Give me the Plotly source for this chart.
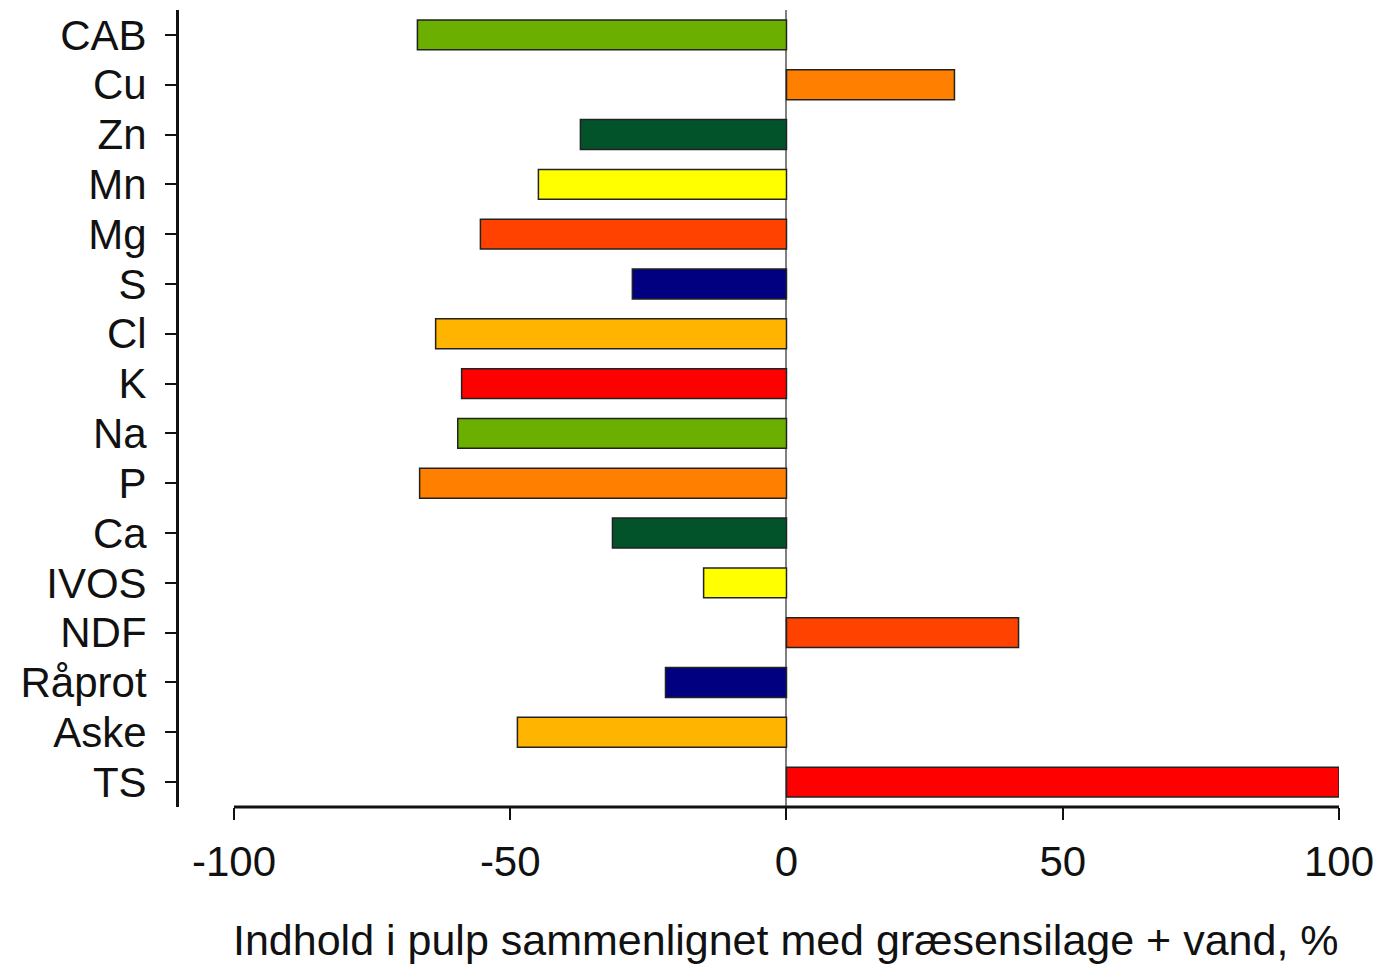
import plotly.graph_objects as go

categories = ["CAB", "Cu", "Zn", "Mn", "Mg", "S", "Cl", "K", "Na", "P", "Ca",
              "IVOS", "NDF", "Råprot", "Aske", "TS"]
values = [-66.8, 30.4, -37.3, -44.9, -55.4, -27.9, -63.5, -58.8, -59.5, -66.4,
          -31.5, -15.0, 42.0, -21.9, -48.7, 100.0]
colors = ["#6BAF00", "#FF7F00", "#02522A", "#FFFF00", "#FF4200", "#000080",
          "#FFB400", "#FF0000", "#6BAF00", "#FF7F00", "#02522A", "#FFFF00",
          "#FF4200", "#000080", "#FFB400", "#FF0000"]
x_ticks = [-100, -50, 0, 50, 100]
x_title = "Indhold i pulp sammenlignet med græsensilage + vand, %"

FONT = "Liberation Sans, Arial, sans-serif"

fig = go.Figure(go.Bar(
    y=categories, x=values, orientation="h", width=0.6,
    marker=dict(color=colors, line=dict(color="#222222", width=1.5)),
))

fig.update_layout(
    width=1381, height=966,
    margin=dict(l=179, r=42, t=10, b=159, autoexpand=False),
    paper_bgcolor="white", plot_bgcolor="white",
    showlegend=False,
    font=dict(family=FONT, size=42, color="#111111"),
    xaxis=dict(
        range=[-109.95, 100], tickmode="array", tickvals=x_ticks,
        ticktext=[str(v) for v in x_ticks], automargin=False,
        showline=False, showgrid=False,
        ticks="outside", ticklen=12, tickwidth=2, tickcolor="#111111",
        zeroline=True, zerolinecolor="#808080", zerolinewidth=2,
        ticklabelstandoff=6,
    ),
    yaxis=dict(
        type="category", tickmode="array", tickvals=categories, ticktext=categories,
        categoryorder="array", categoryarray=categories,
        range=[15.5, -0.5], autorange=False, automargin=False,
        showline=True, linecolor="#111111", linewidth=3,
        ticks="outside", ticklen=11, tickwidth=2, tickcolor="#111111",
        showgrid=False, zeroline=False,
        ticklabelstandoff=10,
    ),
    shapes=[dict(type="line", xref="x", yref="paper", x0=-100, x1=100, y0=0, y1=0,
                 line=dict(color="#111111", width=3))],
    annotations=[dict(text=x_title, xref="x", x=0, yref="paper", y=0,
                      xanchor="center", yanchor="middle", yshift=-133,
                      showarrow=False, font=dict(size=43, family=FONT, color="#111111"))],
)

fig.write_html("out.html")
